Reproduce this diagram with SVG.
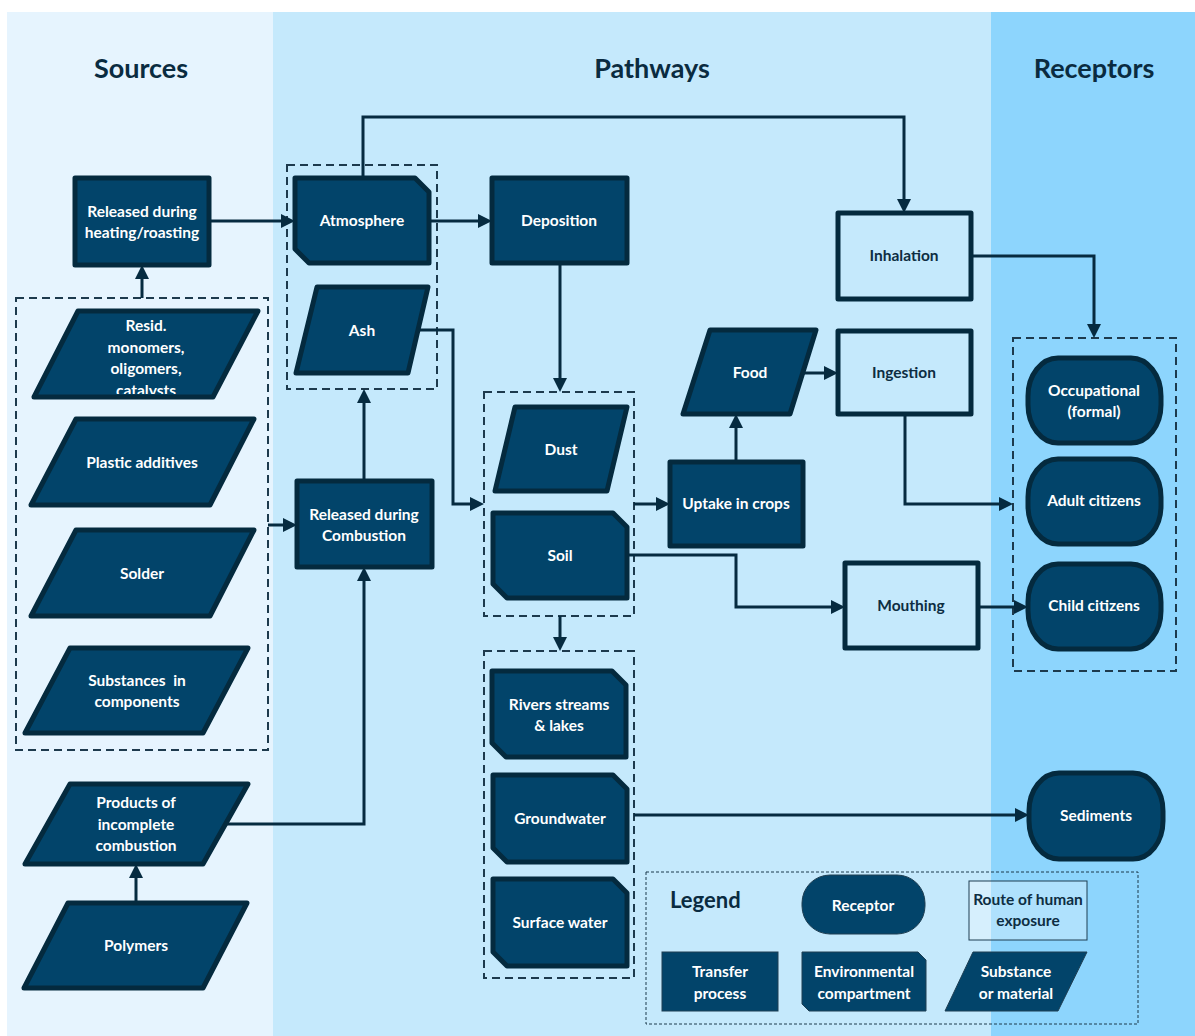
<svg xmlns="http://www.w3.org/2000/svg" width="1195" height="1036" viewBox="0 0 1195 1036">
<defs>
<style>
.n{fill:#02446A;stroke:#042A3E;stroke-width:5;stroke-linejoin:round}
.l{fill:none;stroke:#042A3E;stroke-width:5;stroke-linejoin:round}
.lg{fill:#02446A;stroke:#1E3E52;stroke-width:1}
.d{fill:none;stroke:#1D3A4D;stroke-width:2;stroke-dasharray:8 5}
.c{fill:none;stroke:#062B40;stroke-width:3;stroke-linejoin:miter}
.t{font-family:Lato,"Open Sans","Liberation Sans",sans-serif;font-weight:bold;font-size:15.5px;fill:#FFFFFF;text-anchor:middle}
.td{font-family:Lato,"Open Sans","Liberation Sans",sans-serif;font-weight:bold;font-size:15.5px;fill:#0D2D42;text-anchor:middle}
.h{font-family:Lato,"Open Sans","Liberation Sans",sans-serif;font-weight:bold;font-size:27px;fill:#0A2B40;text-anchor:middle}
.lt{font-family:Lato,"Open Sans","Liberation Sans",sans-serif;font-weight:bold;font-size:15.5px;fill:#FFFFFF;text-anchor:middle}
</style>
<marker id="a" markerUnits="userSpaceOnUse" markerWidth="14" markerHeight="14" refX="6" refY="7" orient="auto">
<path d="M0,0 L14,7 L0,14 Z" fill="#062B40"/>
</marker>
<clipPath id="residClip"><rect x="30" y="300" width="240" height="94"/></clipPath>
</defs>

<g id="background">
<rect x="0" y="0" width="1195" height="1036" fill="#FFFFFF"/>
<rect x="7" y="12" width="266" height="1024" fill="#E6F4FE"/>
<rect x="273" y="12" width="718" height="1024" fill="#C5E9FC"/>
<rect x="991" y="12" width="204" height="1024" fill="#8DD5FD"/>
<text class="h" x="141" y="78">Sources</text>
<text class="h" x="652" y="78">Pathways</text>
<text class="h" x="1094" y="78">Receptors</text>
</g>

<g id="groups">
<rect class="d" x="16" y="298" width="252" height="452"/>
<rect class="d" x="287" y="165" width="150" height="224"/>
<rect class="d" x="484" y="392" width="150" height="224"/>
<rect class="d" x="484" y="651" width="150" height="327"/>
<rect class="d" x="1013" y="338" width="163" height="333"/>
</g>

<g id="connectors">
<path class="c" d="M209,221 H287" marker-end="url(#a)"/>
<path class="c" d="M142,298 V273" marker-end="url(#a)"/>
<path class="c" d="M363,178 V117 H904 V205" marker-end="url(#a)"/>
<path class="c" d="M429,221 H484" marker-end="url(#a)"/>
<path class="c" d="M418,330 H453 V504 H476" marker-end="url(#a)"/>
<path class="c" d="M268,525 H289" marker-end="url(#a)"/>
<path class="c" d="M364,481 V397" marker-end="url(#a)"/>
<path class="c" d="M226,824 H364 V575" marker-end="url(#a)"/>
<path class="c" d="M136,903 V872" marker-end="url(#a)"/>
<path class="c" d="M560,263 V384" marker-end="url(#a)"/>
<path class="c" d="M634,504 H662" marker-end="url(#a)"/>
<path class="c" d="M736,462 V422" marker-end="url(#a)"/>
<path class="c" d="M802,373 H830" marker-end="url(#a)"/>
<path class="c" d="M627,555 H736 V607 H837" marker-end="url(#a)"/>
<path class="c" d="M971,256 H1094 V330" marker-end="url(#a)"/>
<path class="c" d="M905,414 V504 H1005" marker-end="url(#a)"/>
<path class="c" d="M978,607 H1020" marker-end="url(#a)"/>
<path class="c" d="M560,616 V643" marker-end="url(#a)"/>
<path class="c" d="M634,815 H1021" marker-end="url(#a)"/>
</g>

<g id="heating">
<rect class="n" x="75" y="178" width="134" height="87"/>
<text class="t" x="142" y="217">Released during</text>
<text class="t" x="142" y="238">heating/roasting</text>
</g>

<g id="resid">
<polygon class="n" points="78,311 258,311 213,397 34,397"/>
<g clip-path="url(#residClip)">
<text class="t" x="146" y="331">Resid.</text>
<text class="t" x="146" y="353">monomers,</text>
<text class="t" x="146" y="374">oligomers,</text>
<text class="t" x="146" y="396">catalysts</text>
</g>
</g>

<g id="plastic">
<polygon class="n" points="76,419 254,419 210,505 31,505"/>
<text class="t" x="142" y="468">Plastic additives</text>
</g>

<g id="solder">
<polygon class="n" points="76,530 254,530 210,616 31,616"/>
<text class="t" x="142" y="579">Solder</text>
</g>

<g id="substances">
<polygon class="n" points="70,648 248,648 203,733 25,733"/>
<text class="t" x="137" y="686" xml:space="preserve">Substances  in</text>
<text class="t" x="137" y="707">components</text>
</g>

<g id="products">
<polygon class="n" points="70,784 248,784 203,864 25,864"/>
<text class="t" x="136" y="808">Products of</text>
<text class="t" x="136" y="830">incomplete</text>
<text class="t" x="136" y="851">combustion</text>
</g>

<g id="polymers">
<polygon class="n" points="68,903 247,903 203,988 24,988"/>
<text class="t" x="136" y="951">Polymers</text>
</g>

<g id="atmosphere">
<path class="n" d="M295,178 H415 L429,192 V263 H309 L295,249 Z"/>
<text class="t" x="362" y="226">Atmosphere</text>
</g>

<g id="ash">
<polygon class="n" points="317,287 428,287 408,373 296,373"/>
<text class="t" x="362" y="336">Ash</text>
</g>

<g id="combustion">
<rect class="n" x="297" y="481" width="135" height="86"/>
<text class="t" x="364" y="520">Released during</text>
<text class="t" x="364" y="541">Combustion</text>
</g>

<g id="deposition">
<rect class="n" x="492" y="178" width="135" height="85"/>
<text class="t" x="559" y="226">Deposition</text>
</g>

<g id="dust">
<polygon class="n" points="515,407 627,407 607,491 495,491"/>
<text class="t" x="561" y="455">Dust</text>
</g>

<g id="soil">
<path class="n" d="M493,513 H613 L627,527 V598 H507 L493,584 Z"/>
<text class="t" x="560" y="561">Soil</text>
</g>

<g id="uptake">
<rect class="n" x="670" y="462" width="133" height="84"/>
<text class="t" x="736" y="509">Uptake in crops</text>
</g>

<g id="food">
<polygon class="n" points="710,330 816,330 790,414 683,414"/>
<text class="t" x="750" y="378">Food</text>
</g>

<g id="inhalation">
<rect class="l" x="838" y="213" width="133" height="86"/>
<text class="td" x="904" y="261">Inhalation</text>
</g>

<g id="ingestion">
<rect class="l" x="838" y="331" width="133" height="83"/>
<text class="td" x="904" y="378">Ingestion</text>
</g>

<g id="mouthing">
<rect class="l" x="845" y="563" width="133" height="85"/>
<text class="td" x="911" y="611">Mouthing</text>
</g>

<g id="rivers">
<path class="n" d="M492,671 H612 L626,685 V757 H506 L492,743 Z"/>
<text class="t" x="559" y="710">Rivers streams</text>
<text class="t" x="559" y="731">&amp; lakes</text>
</g>

<g id="groundwater">
<path class="n" d="M493,775 H613 L627,789 V862 H507 L493,848 Z"/>
<text class="t" x="560" y="824">Groundwater</text>
</g>

<g id="surfacewater">
<path class="n" d="M493,879 H613 L627,893 V966 H507 L493,952 Z"/>
<text class="t" x="560" y="928">Surface water</text>
</g>

<g id="occupational">
<rect class="n" x="1028" y="358" width="133" height="85" rx="30" ry="38"/>
<text class="t" x="1094" y="396">Occupational</text>
<text class="t" x="1094" y="417">(formal)</text>
</g>

<g id="adult">
<rect class="n" x="1028" y="459" width="133" height="85" rx="30" ry="38"/>
<text class="t" x="1094" y="506">Adult citizens</text>
</g>

<g id="child">
<rect class="n" x="1028" y="564" width="133" height="85" rx="30" ry="38"/>
<text class="t" x="1094" y="611">Child citizens</text>
</g>

<g id="sediments">
<rect class="n" x="1029" y="773" width="134" height="86" rx="30" ry="38"/>
<text class="t" x="1096" y="821">Sediments</text>
</g>

<g id="legend">
<rect x="646" y="872" width="492" height="152" fill="none" stroke="#1D3A4D" stroke-width="1" stroke-dasharray="3 2"/>
<text x="670" y="908" font-family="Lato,'Open Sans','Liberation Sans',sans-serif" font-weight="bold" font-size="22" fill="#0A2B40">Legend</text>
<rect class="lg" x="802" y="875" width="123" height="59" rx="28" ry="28"/>
<text class="lt" x="863" y="911">Receptor</text>
<rect x="969" y="881" width="118" height="59" fill="#FFFFFF" fill-opacity="0.3" stroke="#1E3E52" stroke-width="1"/>
<text class="td" x="1028" y="905" font-size="13.5">Route of human</text>
<text class="td" x="1028" y="926" font-size="13.5">exposure</text>
<rect class="lg" x="662" y="952" width="116" height="59"/>
<text class="lt" x="720" y="977">Transfer</text>
<text class="lt" x="720" y="999">process</text>
<path class="lg" d="M802,952 H918 L926,960 V1011 H809 L802,1004 Z"/>
<text class="lt" x="864" y="977">Environmental</text>
<text class="lt" x="864" y="999">compartment</text>
<polygon class="lg" points="973,952 1087,952 1058,1011 945,1011"/>
<text class="lt" x="1016" y="977">Substance</text>
<text class="lt" x="1016" y="999">or material</text>
</g>
</svg>
